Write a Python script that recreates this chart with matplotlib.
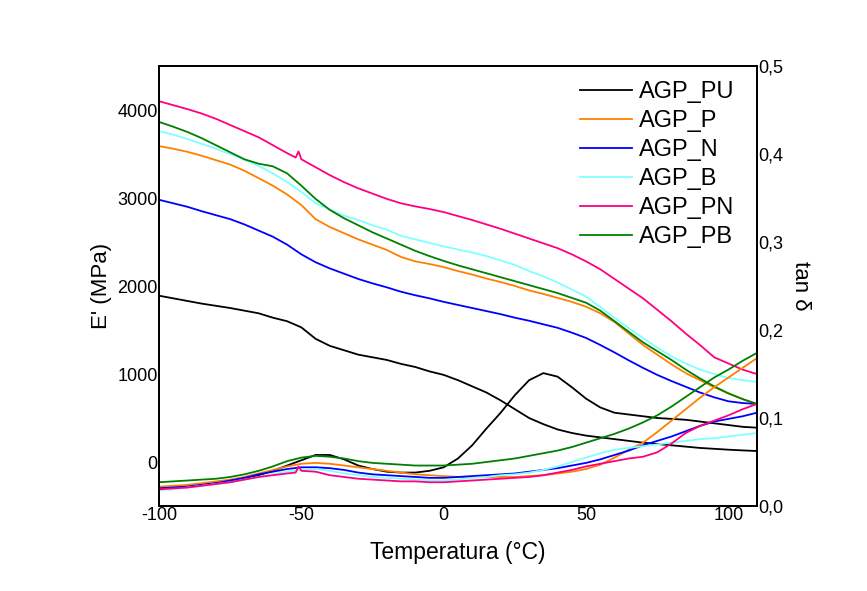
import matplotlib
matplotlib.use("Agg")
import matplotlib.pyplot as plt
from matplotlib.ticker import FuncFormatter

plt.rcParams['font.family'] = ['Liberation Sans', 'DejaVu Sans']
plt.rcParams['axes.unicode_minus'] = False

# temperature grid (deg C) shared by most curves
temp = list(range(-100, 111, 5))

# storage modulus E' (MPa)
e_pu = [1890, 1860, 1830, 1800, 1775, 1750, 1720, 1690, 1640, 1600, 1530, 1400, 1320, 1270, 1220,
        1190, 1160, 1115, 1080, 1030, 990, 930, 860, 790, 700, 600, 500, 430, 370, 330, 300, 280,
        260, 240, 220, 205, 190, 175, 160, 150, 140, 132, 125]
e_p = [3590, 3560, 3525, 3480, 3430, 3380, 3310, 3225, 3140, 3040, 2920, 2760, 2670, 2600, 2530,
       2470, 2410, 2330, 2280, 2250, 2215, 2170, 2130, 2085, 2045, 2000, 1950, 1910, 1865, 1820,
       1765, 1690, 1590, 1460, 1330, 1220, 1110, 1010, 930, 850, 780, 715, 660]
e_n = [2980, 2940, 2900, 2850, 2805, 2760, 2700, 2630, 2560, 2470, 2360, 2270, 2200, 2140, 2080,
       2030, 1985, 1935, 1895, 1860, 1820, 1785, 1750, 1715, 1680, 1640, 1605, 1565, 1525, 1470,
       1410, 1330, 1245, 1155, 1070, 990, 920, 855, 790, 735, 690, 670, 660]
e_b = [3760, 3720, 3670, 3615, 3560, 3500, 3435, 3365, 3280, 3180, 3070, 2940, 2870, 2800, 2750,
       2690, 2640, 2570, 2530, 2490, 2450, 2415, 2380, 2340, 2290, 2240, 2170, 2110, 2040, 1960,
       1880, 1760, 1640, 1520, 1410, 1300, 1200, 1120, 1050, 1000, 955, 930, 910]
e_pb = [3865, 3810, 3750, 3680, 3600, 3520, 3440, 3390, 3360, 3280, 3140, 2990, 2865, 2770, 2690,
        2610, 2540, 2470, 2400, 2340, 2285, 2235, 2190, 2145, 2100, 2055, 2010, 1965, 1920, 1865,
        1810, 1720, 1600, 1480, 1360, 1260, 1160, 1050, 950, 860, 780, 715, 660]
temp_pn = [-100, -95, -90, -85, -80, -75, -70, -65, -60, -55, -52, -51, -50, -45, -40, -35, -30,
           -25, -20, -15, -10, -5, 0, 5, 10, 15, 20, 25, 30, 35, 40, 45, 50, 55, 60, 65, 70, 75, 80,
           85, 90, 95, 100, 105, 110]
e_pn = [4100, 4055, 4010, 3960, 3900, 3830, 3760, 3690, 3600, 3510, 3460, 3530, 3440, 3350, 3260,
        3180, 3110, 3050, 2990, 2940, 2905, 2875, 2840, 2795, 2750, 2700, 2650, 2595, 2540, 2485,
        2430, 2360, 2280, 2190, 2080, 1970, 1860, 1730, 1600, 1460, 1330, 1190, 1120, 1050, 1000]

# tan delta
t_pu = [0.020, 0.021, 0.022, 0.024, 0.026, 0.028, 0.031, 0.035, 0.040, 0.046, 0.052, 0.058, 0.058,
        0.053, 0.046, 0.042, 0.039, 0.038, 0.038, 0.040, 0.044, 0.054, 0.069, 0.088, 0.106, 0.126,
        0.143, 0.151, 0.147, 0.135, 0.122, 0.112, 0.106, 0.104, 0.102, 0.100, 0.099, 0.098, 0.096,
        0.094, 0.092, 0.090, 0.089]
t_p = [0.022, 0.023, 0.024, 0.026, 0.028, 0.030, 0.033, 0.037, 0.041, 0.045, 0.048, 0.049, 0.048,
       0.046, 0.044, 0.042, 0.040, 0.038, 0.036, 0.035, 0.034, 0.033, 0.033, 0.033, 0.033, 0.033,
       0.034, 0.035, 0.037, 0.039, 0.042, 0.047, 0.055, 0.064, 0.072, 0.084, 0.097, 0.110, 0.123,
       0.135, 0.146, 0.157, 0.168]
t_n = [0.020, 0.021, 0.022, 0.024, 0.026, 0.029, 0.032, 0.036, 0.039, 0.042, 0.044, 0.044, 0.043,
       0.041, 0.038, 0.036, 0.035, 0.034, 0.033, 0.032, 0.032, 0.033, 0.034, 0.035, 0.036, 0.037,
       0.039, 0.041, 0.043, 0.046, 0.049, 0.053, 0.058, 0.063, 0.069, 0.074, 0.079, 0.085, 0.091,
       0.096, 0.099, 0.102, 0.106]
t_b = [0.018, 0.019, 0.021, 0.023, 0.025, 0.027, 0.030, 0.033, 0.036, 0.039, 0.041, 0.042, 0.040,
       0.037, 0.035, 0.033, 0.032, 0.031, 0.030, 0.029, 0.029, 0.030, 0.032, 0.033, 0.035, 0.036,
       0.038, 0.041, 0.045, 0.050, 0.055, 0.060, 0.064, 0.066, 0.068, 0.070, 0.072, 0.074, 0.076,
       0.077, 0.079, 0.081, 0.083]
t_pb = [0.027, 0.028, 0.029, 0.030, 0.031, 0.033, 0.036, 0.040, 0.045, 0.051, 0.055, 0.057, 0.056,
        0.054, 0.051, 0.049, 0.048, 0.047, 0.046, 0.046, 0.046, 0.047, 0.048, 0.050, 0.052, 0.054,
        0.057, 0.060, 0.063, 0.067, 0.072, 0.077, 0.082, 0.088, 0.095, 0.103, 0.113, 0.124, 0.135,
        0.146, 0.155, 0.165, 0.174]
t_pn = [0.019, 0.020, 0.021, 0.023, 0.025, 0.027, 0.030, 0.033, 0.035, 0.037, 0.038, 0.045, 0.040,
        0.039, 0.035, 0.033, 0.031, 0.030, 0.029, 0.028, 0.028, 0.027, 0.027, 0.028, 0.029, 0.030,
        0.031, 0.032, 0.033, 0.035, 0.038, 0.041, 0.045, 0.048, 0.051, 0.054, 0.056, 0.061, 0.071,
        0.083, 0.091, 0.097, 0.103, 0.110, 0.116]

labels = ['AGP_PU', 'AGP_P', 'AGP_N', 'AGP_B', 'AGP_PN', 'AGP_PB']
colors = ['black', '#FF8000', '#0000FF', '#80FFFF', '#FF0080', '#008000']

fig = plt.figure(figsize=(8.67, 5.91), dpi=100)
ax = fig.add_axes([0.1834, 0.1438, 0.6896, 0.7445])
ax2 = ax.twinx()

e_data = [(temp, e_pu), (temp, e_p), (temp, e_n), (temp, e_b), (temp_pn, e_pn), (temp, e_pb)]
t_data = [(temp, t_pu), (temp, t_p), (temp, t_n), (temp, t_b), (temp_pn, t_pn), (temp, t_pb)]

for (x, y), (xt, yt), lab, c in zip(e_data, t_data, labels, colors):
    ax.plot(x, y, color=c, lw=1.3, label=lab)
    ax2.plot(xt, yt, color=c, lw=1.3)

ax.set_xlim(-100, 110)
ax.set_ylim(-500, 4500)
ax2.set_ylim(0, 0.5)
ax.set_xticks([-100, -50, 0, 50, 100])
ax.set_yticks([0, 1000, 2000, 3000, 4000])
ax2.set_yticks([0, 0.1, 0.2, 0.3, 0.4, 0.5])
ax2.yaxis.set_major_formatter(FuncFormatter(lambda v, p: f"{v:.1f}".replace('.', ',')))

for a in (ax, ax2):
    a.tick_params(length=0, labelsize=13, pad=1)
    for s in a.spines.values():
        s.set_linewidth(1.3)

ax.set_xlabel('Temperatura (°C)', fontsize=16.5, labelpad=12)
ax.set_ylabel("E' (MPa)", fontsize=16, labelpad=4)
ax2.set_ylabel('tan δ', fontsize=16, rotation=270, labelpad=20)

ax.legend(loc='upper right', bbox_to_anchor=(0.962, 0.966), frameon=False, fontsize=17,
          handlelength=2.2, labelspacing=0.3, handletextpad=0.3, borderpad=0, borderaxespad=0)

fig.savefig('out.png', dpi=100, facecolor='white')
